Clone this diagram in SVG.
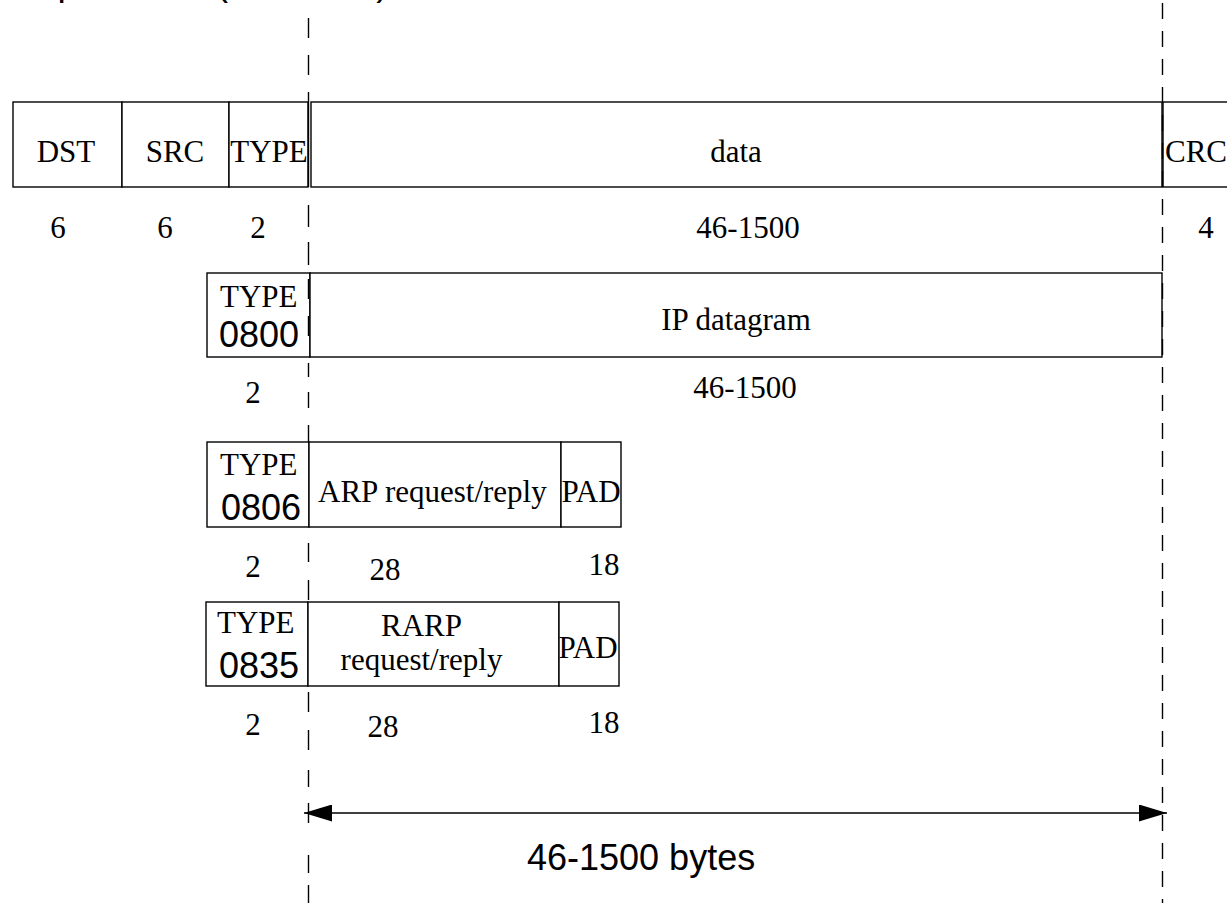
<svg xmlns="http://www.w3.org/2000/svg" width="1227" height="903" viewBox="0 0 1227 903">
<style>
.box{fill:#fff;stroke:#000;stroke-width:1.4}
.s{font-family:"Liberation Serif","Times New Roman",serif;font-size:31px;fill:#000}
.a{font-family:"Liberation Sans",Arial,sans-serif;font-size:36px;fill:#000}
.m{text-anchor:middle}
.dash{fill:none;stroke:#000;stroke-width:1.4}
</style>
<defs>
<marker id="ah" viewBox="0 0 28 17" refX="28" refY="8.5" markerWidth="28" markerHeight="17" markerUnits="userSpaceOnUse" orient="auto-start-reverse">
<path d="M0,0 L28,8.5 L0,17 z" fill="#000"/>
</marker>
</defs>
<rect width="1227" height="903" fill="#fff"/>
<text class="a" x="-173" y="-5.5" style="font-size:37px">Ethernet encapsulation (RFC 894)</text>

<g id="frame">
<rect class="box" x="13" y="102" width="109" height="85"/>
<rect class="box" x="122" y="102" width="107" height="85"/>
<rect class="box" x="229" y="102" width="79" height="85"/>
<rect class="box" x="311" y="102" width="851" height="85"/>
<rect class="box" x="1163" y="102" width="120" height="85"/>
<text class="s m" x="66" y="162">DST</text>
<text class="s m" x="175" y="162">SRC</text>
<text class="s m" x="269" y="162">TYPE</text>
<text class="s m" x="736" y="162">data</text>
<text class="s" x="1165" y="162">CRC</text>
<text class="s m" x="58" y="238">6</text>
<text class="s m" x="165" y="238">6</text>
<text class="s m" x="258" y="238">2</text>
<text class="s m" x="748" y="238">46-1500</text>
<text class="s m" x="1206" y="238">4</text>
</g>

<g id="ip">
<rect class="box" x="207" y="273" width="103" height="84"/>
<rect class="box" x="310" y="273" width="852" height="84"/>
<text class="s" x="220" y="307">TYPE</text>
<text class="a" x="219" y="347">0800</text>
<text class="s m" x="736" y="330">IP datagram</text>
<text class="s m" x="253" y="403">2</text>
<text class="s m" x="745" y="398">46-1500</text>
</g>

<g id="arp">
<rect class="box" x="207" y="442" width="102" height="85"/>
<rect class="box" x="309" y="442" width="252" height="85"/>
<rect class="box" x="561" y="442" width="60" height="85"/>
<text class="s" x="220" y="475">TYPE</text>
<text class="a" x="221" y="520">0806</text>
<text class="s" x="318" y="502">ARP request/reply</text>
<text class="s m" x="591" y="502">PAD</text>
<text class="s m" x="253" y="577">2</text>
<text class="s m" x="385" y="580">28</text>
<text class="s m" x="604" y="575">18</text>
</g>

<g id="rarp">
<rect class="box" x="206" y="602" width="102" height="84"/>
<rect class="box" x="308" y="602" width="251" height="84"/>
<rect class="box" x="559" y="602" width="60" height="84"/>
<text class="s" x="217" y="633">TYPE</text>
<text class="a" x="219" y="678">0835</text>
<text class="s m" x="421.5" y="636">RARP</text>
<text class="s m" x="421.5" y="670">request/reply</text>
<text class="s m" x="588" y="658">PAD</text>
<text class="s m" x="253" y="735">2</text>
<text class="s m" x="383" y="737">28</text>
<text class="s m" x="604" y="733">18</text>
</g>

<g id="connectors">
<path class="dash" d="M308.5 18V38M308.5 55V75M308.5 92V187M308.5 205V227M308.5 242V265M308.5 279V299M308.5 316V336M308.5 363V377M308.5 392V408M308.5 425V442M308.5 543V562M308.5 580V600M308.5 692V712M308.5 730V750M308.5 770V787M308.5 803V823M308.5 855V873M308.5 885V903"/>
<path class="dash" d="M1162.5 3V903" stroke-dasharray="16 12"/>
<line x1="304" y1="813" x2="1167" y2="813" stroke="#000" stroke-width="1.4" marker-start="url(#ah)" marker-end="url(#ah)"/>
<text class="a" x="527" y="870">46-1500 bytes</text>
</g>
</svg>
